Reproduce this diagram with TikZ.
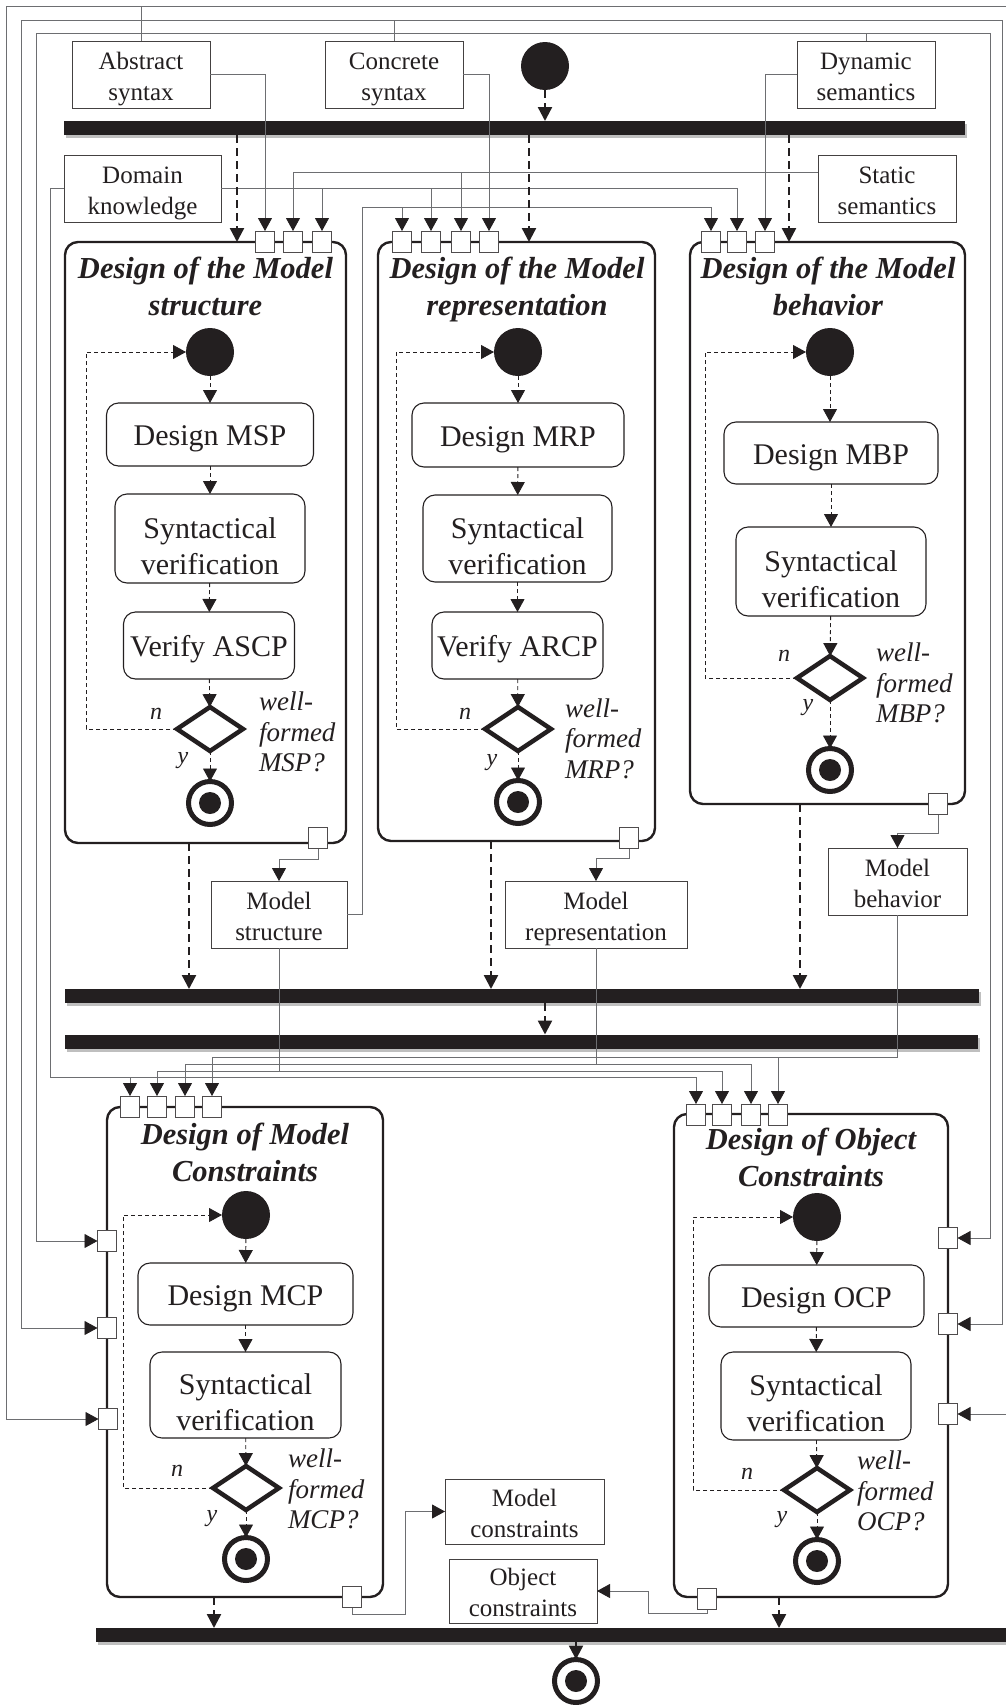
\documentclass[tikz,border=0pt]{standalone}
\usepackage{fontspec}
\setmainfont{Liberation Serif}
\usetikzlibrary{arrows.meta,shapes.geometric,shadows,calc}
\definecolor{ink}{HTML}{231F20}
\definecolor{wirecol}{HTML}{6D6E71}

\begin{document}
\begin{tikzpicture}[x=1pt,y=-1pt,
  every node/.style={inner sep=0pt,outer sep=0pt,text=ink},
  % two-line labels: the struts fix the height above the last baseline
  % and the depth below it, so every label sits alike in its box
  objbox/.style={draw=ink!85,line width=0.8pt,fill=white,minimum height=67pt,
    align=center,font=\fontsize{25}{31}\selectfont,
    execute at begin node={\rule{0pt}{57pt}},
    execute at end node={\rule[-6pt]{0pt}{6pt}}},
  phase/.style={draw=ink,line width=2.4pt,rounded corners=13pt},
  phasetitle/.style={align=center,font=\fontsize{30.5}{37}\selectfont\bfseries\itshape},
  taskbase/.style={draw=ink,line width=1.1pt,rounded corners=12pt,fill=white,
    align=center,font=\fontsize{30}{36}\selectfont},
  task/.style={taskbase,
    execute at begin node={\rule{0pt}{29pt}},
    execute at end node={\rule[-7pt]{0pt}{7pt}}},
  tasktwo/.style={taskbase,
    execute at begin node={\rule{0pt}{73pt}},
    execute at end node={\rule[-2pt]{0pt}{2pt}}},
  startdot/.style={circle,fill=ink,minimum size=48pt},
  enddot/.style={circle,draw=ink,line width=5pt,fill=white,minimum size=43pt,
    path picture={\fill[ink] (path picture bounding box.center) circle (11pt);}},
  choice/.style={diamond,draw=ink,line width=4.5pt,fill=white,
    minimum width=66pt,minimum height=44pt},
  pin/.style={draw=ink!80,line width=0.8pt,fill=white,minimum width=19pt,minimum height=21pt},
  joinbar/.style={fill=ink,minimum height=14pt,
    drop shadow={shadow xshift=2pt,shadow yshift=-3pt,opacity=0.25,fill=black}},
  flow/.style={draw=ink,line width=2.4pt,dash pattern=on 8pt off 5pt,
    -{Triangle[length=14pt,width=14pt]}},
  innerflow/.style={draw=ink,line width=0.9pt,dash pattern=on 4pt off 3pt,
    -{Triangle[length=13pt,width=14pt]}},
  wire/.style={draw=wirecol,line width=0.9pt,-{Triangle[length=13pt,width=14pt,color=ink]}},
  cond/.style={anchor=west,align=left,font=\fontsize{27}{30.5}\selectfont\itshape},
  yn/.style={font=\fontsize{24}{24}\selectfont\itshape}
]
\useasboundingbox (0,0) rectangle (1006,1705);

% ---------- synchronisation bars ----------
\node[joinbar,minimum width=901pt] (bar1) at (514.5,128) {};
\node[joinbar,minimum width=914pt] (bar2) at (522,996) {};
\node[joinbar,minimum width=913pt] (bar3) at (521.5,1041.5) {};
\node[joinbar,minimum width=916pt] (bar4) at (554,1635) {};

% ---------- data objects ----------
\node[objbox,minimum width=138pt] (abs) at (141,74.5) {Abstract\\syntax};
\node[objbox,minimum width=138pt] (con) at (394,74.5) {Concrete\\syntax};
\node[objbox,minimum width=138pt] (dyn) at (866,74.5) {Dynamic\\semantics};
\node[objbox,minimum width=157pt] (dom) at (142.5,188.5) {Domain\\knowledge};
\node[objbox,minimum width=138pt] (sta) at (887,188.5) {Static\\semantics};
\node[objbox,minimum width=136pt] (mst) at (279,914.5) {Model\\structure};
\node[objbox,minimum width=182pt] (mre) at (596,914.5) {Model\\representation};
\node[objbox,minimum width=139pt] (mbe) at (897.5,881.5) {Model\\behavior};
\node[objbox,minimum width=159pt,minimum height=65pt] (mco) at (524.5,1511.5) {Model\\constraints};
\node[objbox,minimum width=148pt,minimum height=64pt] (oco) at (523,1591) {Object\\constraints};

% ---------- activity frames ----------
\node[phase,minimum width=281pt,minimum height=601pt] (msd) at (205.5,542.5) {};
\node[phase,minimum width=277pt,minimum height=599pt] (mrd) at (516.5,541.5) {};
\node[phase,minimum width=275pt,minimum height=562pt] (mbd) at (827.5,523) {};
\node[phase,minimum width=276pt,minimum height=490pt] (mcp) at (245,1352) {};
\node[phase,minimum width=274pt,minimum height=483pt] (ocp) at (811,1355.5) {};

\node[phasetitle,anchor=north] (msdT) at (205.5,257.5) {Design of the Model\\structure};
\node[phasetitle,anchor=north] (mrdT) at (517,257.5) {Design of the Model\\representation};
\node[phasetitle,anchor=north] (mbdT) at (828,257.5) {Design of the Model\\behavior};
\node[phasetitle,anchor=north] (mcpT) at (245,1123) {Design of Model\\Constraints};
\node[phasetitle,anchor=north] (ocpT) at (811,1128) {Design of Object\\Constraints};

% ---------- routing points ----------
\coordinate (aL) at (6,6);      \coordinate (aR) at (1014,6);
\coordinate (cL) at (21,20);    \coordinate (cR) at (1002,20);
\coordinate (dL) at (36,33);    \coordinate (dR) at (990,33);
\coordinate (kL) at (50,1077);
\coordinate (staL) at ([yshift=16.5pt]sta.west);
\coordinate (msUp) at (362,207);
\coordinate (msDn) at (279,1071);
\coordinate (mrDn) at (596,1064);
\coordinate (mbDn) at (897.5,1057);
\coordinate (c1turn) at (405,1614);
\coordinate (c2turn) at (648,1613);

% ---------- pins ----------
\node[pin] (s1pA) at (265,241.5) {};
\node[pin] (s1pS) at (293,241.5) {};
\node[pin] (s1pK) at (322,241.5) {};
\node[pin] (s2pM) at (402,241.5) {};
\node[pin] (s2pK) at (431,241.5) {};
\node[pin] (s2pS) at (461,241.5) {};
\node[pin] (s2pC) at (489,241.5) {};
\node[pin] (s3pM) at (711,241.5) {};
\node[pin] (s3pK) at (737,241.5) {};
\node[pin] (s3pD) at (765,241.5) {};
\node[pin] (s1o) at (318,837.5) {};
\node[pin] (s2o) at (629,838) {};
\node[pin] (s3o) at (938,803.5) {};
\node[pin] (c1pK) at (130,1106.5) {};
\node[pin] (c1pS) at (157,1106.5) {};
\node[pin] (c1pR) at (185,1106.5) {};
\node[pin] (c1pB) at (212,1106.5) {};
\node[pin] (c2pK) at (696,1114.5) {};
\node[pin] (c2pS) at (722,1114.5) {};
\node[pin] (c2pR) at (751,1114.5) {};
\node[pin] (c2pB) at (778,1114.5) {};
\node[pin] (c1pD) at (107,1241) {};
\node[pin] (c1pC) at (107,1328) {};
\node[pin] (c1pA) at (108,1419) {};
\node[pin] (c2pD) at (948,1238) {};
\node[pin] (c2pC) at (948,1324) {};
\node[pin] (c2pA) at (948,1414) {};
\node[pin] (c1o) at (352,1597) {};
\node[pin] (c2o) at (707,1599) {};

% ---------- object flows ----------
\draw[wire] (abs.north) |- (aL) |- (c1pA.west);
\draw[wire] (abs.north) |- (aR) |- (c2pA.east);
\draw[wire] (abs.east) -| (s1pA.north);
\draw[wire] (con.north) |- (cL) |- (c1pC.west);
\draw[wire] (con.north) |- (cR) |- (c2pC.east);
\draw[wire] (con.east) -| (s2pC.north);
\draw[wire] (dyn.north) |- (dL) |- (c1pD.west);
\draw[wire] (dyn.north) |- (dR) |- (c2pD.east);
\draw[wire] (dyn.west) -| (s3pD.north);
\draw[wire] (dom.east) -| (s1pK.north);
\draw[wire] (dom.east) -| (s2pK.north);
\draw[wire] (dom.east) -| (s3pK.north);
\draw[wire] (dom.west) -| (kL) -| (c1pK.north);
\draw[wire] (kL) -| (c2pK.north);
\draw[wire] (staL) -| (s1pS.north);
\draw[wire] (staL) -| (s2pS.north);
\draw[wire] (mst.east) -| (msUp) -| (s2pM.north);
\draw[wire] (msUp) -| (s3pM.north);
\draw[wire] (mst.south) -- (msDn) -| (c1pS.north);
\draw[wire] (msDn) -| (c2pS.north);
\draw[wire] (mre.south) -- (mrDn) -| (c1pR.north);
\draw[wire] (mrDn) -| (c2pR.north);
\draw[wire] (mbe.south) -- (mbDn) -| (c1pB.north);
\draw[wire] (mbDn) -| (c2pB.north);
\draw[wire] (s1o.south) -- ++(0,11) -| (mst.north);
\draw[wire] (s2o.south) -- ++(0,10) -| (mre.north);
\draw[wire] (s3o.south) -- ++(0,19) -| (mbe.north);
\draw[wire] (c1o.south) |- (c1turn) |- (mco.west);
\draw[wire] (c2o.south) |- (c2turn) |- (oco.east);

% redraw pins above the wires
\foreach \p in {s1pA,s1pS,s1pK,s2pM,s2pK,s2pS,s2pC,s3pM,s3pK,s3pD,s1o,s2o,s3o,
  c1pK,c1pS,c1pR,c1pB,c2pK,c2pS,c2pR,c2pB,c1pD,c1pC,c1pA,c2pD,c2pC,c2pA,c1o,c2o}
  \draw[draw=ink!80,line width=0.8pt,fill=white] (\p.south west) rectangle (\p.north east);

% ---------- control flow between phases ----------
\node[startdot] (go) at (545,66) {};
\node[enddot] (stop) at (576,1681) {};
\coordinate (f1) at (237,0); \coordinate (f2) at (529,0); \coordinate (f3) at (789,0);
\coordinate (g1) at (189,0); \coordinate (g2) at (491,0); \coordinate (g3) at (800,0);
\coordinate (h1) at (545,0);
\coordinate (k1) at (214,0); \coordinate (k2) at (779,0);
\draw[flow] (go) -- (go |- bar1.north);
\draw[flow] (bar1.south -| f1) -- (msd.north -| f1);
\draw[flow] (bar1.south -| f2) -- (mrd.north -| f2);
\draw[flow] (bar1.south -| f3) -- (mbd.north -| f3);
\draw[flow] (msd.south -| g1) -- (bar2.north -| g1);
\draw[flow] (mrd.south -| g2) -- (bar2.north -| g2);
\draw[flow] (mbd.south -| g3) -- (bar2.north -| g3);
\draw[flow] (bar2.south -| h1) -- (bar3.north -| h1);
\draw[flow] (mcp.south -| k1) -- (bar4.north -| k1);
\draw[flow] (ocp.south -| k2) -- (bar4.north -| k2);
\draw[flow] (bar4.south -| stop) -- (stop);

% ---------- Design of the Model structure ----------
\node[startdot] (s1i) at (210,352) {};
\node[task,minimum width=207pt,minimum height=63pt] (s1a) at (210,434.5) {Design MSP};
\node[tasktwo,minimum width=190pt,minimum height=89pt] (s1b) at (210,538.5) {Syntactical\\verification};
\node[task,minimum width=171pt,minimum height=67pt] (s1c) at (209,645.5) {Verify ASCP};
\node[choice] (s1d) at (210,729) {};
\node[enddot] (s1e) at (210,803) {};
\coordinate (s1l) at (86,729);
\draw[innerflow] (s1i) -- (s1a);
\draw[innerflow] (s1a) -- (s1b);
\draw[innerflow] (s1b) -- (s1c);
\draw[innerflow] (s1c) -- (s1d);
\draw[innerflow] (s1d) -- (s1e);
\draw[innerflow] (s1d.west) -- (s1l) |- (s1i.west);
\node[yn] (s1n) at (156,714) {n};
\node[yn] (s1y) at (183,761) {y};
\node[cond] (s1q) at (259,732) {well-\\formed\\MSP?};

% ---------- Design of the Model representation ----------
\node[startdot] (s2i) at (518,352) {};
\node[task,minimum width=212pt,minimum height=64pt] (s2a) at (518,435) {Design MRP};
\node[tasktwo,minimum width=189pt,minimum height=87pt] (s2b) at (517.5,538.5) {Syntactical\\verification};
\node[task,minimum width=171pt,minimum height=67pt] (s2c) at (517.5,645.5) {Verify ARCP};
\node[choice] (s2d) at (518,729) {};
\node[enddot] (s2e) at (518,802) {};
\coordinate (s2l) at (396,729);
\draw[innerflow] (s2i) -- (s2a);
\draw[innerflow] (s2a) -- (s2b);
\draw[innerflow] (s2b) -- (s2c);
\draw[innerflow] (s2c) -- (s2d);
\draw[innerflow] (s2d) -- (s2e);
\draw[innerflow] (s2d.west) -- (s2l) |- (s2i.west);
\node[yn] (s2n) at (465,714) {n};
\node[yn] (s2y) at (492,763) {y};
\node[cond] (s2q) at (565,738.5) {well-\\formed\\MRP?};

% ---------- Design of the Model behavior ----------
\node[startdot] (s3i) at (830,352) {};
\node[task,minimum width=214pt,minimum height=62pt] (s3a) at (831,453) {Design MBP};
\node[tasktwo,minimum width=190pt,minimum height=89pt] (s3b) at (831,571.5) {Syntactical\\verification};
\node[choice] (s3d) at (830,678) {};
\node[enddot] (s3e) at (830,770) {};
\coordinate (s3l) at (705,678);
\draw[innerflow] (s3i) -- (s3i |- s3a.north);
\draw[innerflow] (s3a) -- (s3b);
\draw[innerflow] (s3b) -- (s3d);
\draw[innerflow] (s3d) -- (s3e);
\draw[innerflow] (s3d.west) -- (s3l) |- (s3i.west);
\node[yn] (s3n) at (784,656) {n};
\node[yn] (s3y) at (808,708) {y};
\node[cond] (s3q) at (876,683) {well-\\formed\\MBP?};

% ---------- Design of Model Constraints ----------
\node[startdot] (c1i) at (246,1215) {};
\node[task,minimum width=215pt,minimum height=62pt] (c1a) at (245.5,1294) {Design MCP};
\node[tasktwo,minimum width=191pt,minimum height=86pt] (c1b) at (245.5,1395) {Syntactical\\verification};
\node[choice] (c1d) at (246,1488) {};
\node[enddot] (c1e) at (246,1559) {};
\coordinate (c1l) at (123,1488);
\draw[innerflow] (c1i) -- (c1a);
\draw[innerflow] (c1a) -- (c1b);
\draw[innerflow] (c1b) -- (c1d);
\draw[innerflow] (c1d) -- (c1e);
\draw[innerflow] (c1d.west) -- (c1l) |- (c1i.west);
\node[yn] (c1n) at (177,1471) {n};
\node[yn] (c1y) at (212,1519) {y};
\node[cond] (c1q) at (288,1489) {well-\\formed\\MCP?};

% ---------- Design of Object Constraints ----------
\node[startdot] (c2i) at (817,1217) {};
\node[task,minimum width=215pt,minimum height=62pt] (c2a) at (816.5,1296) {Design OCP};
\node[tasktwo,minimum width=190pt,minimum height=88pt] (c2b) at (816,1396) {Syntactical\\verification};
\node[choice] (c2d) at (817,1490) {};
\node[enddot] (c2e) at (817,1561) {};
\coordinate (c2l) at (693,1490);
\draw[innerflow] (c2i) -- (c2a);
\draw[innerflow] (c2a) -- (c2b);
\draw[innerflow] (c2b) -- (c2d);
\draw[innerflow] (c2d) -- (c2e);
\draw[innerflow] (c2d.west) -- (c2l) |- (c2i.west);
\node[yn] (c2n) at (747,1474) {n};
\node[yn] (c2y) at (782,1520) {y};
\node[cond] (c2q) at (857,1491) {well-\\formed\\OCP?};

\end{tikzpicture}
\end{document}
